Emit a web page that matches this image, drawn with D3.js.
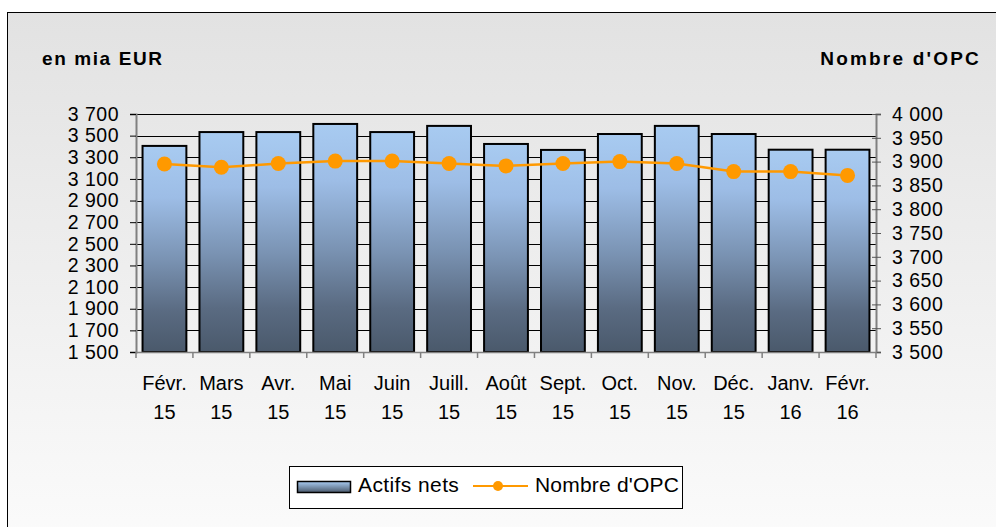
<!DOCTYPE html>
<html><head><meta charset="utf-8">
<script src="https://cdn.jsdelivr.net/npm/d3@7"></script>
<style>body{margin:0;background:#fff}svg{display:block}text{font-family:"Liberation Sans",Arial,sans-serif}</style>
</head><body><svg id="c" width="996" height="527"></svg>
<script>
const months = ["Févr.","Mars","Avr.","Mai","Juin","Juill.","Août","Sept.","Oct.","Nov.","Déc.","Janv.","Févr."];
const years = ["15","15","15","15","15","15","15","15","15","15","15","16","16"];
const actifsNets = [3405,3533,3533,3608,3533,3590,3423,3368,3515,3590,3515,3370,3370];
const nombreOPC = [3895,3888,3896,3901,3901,3896,3891,3896,3900,3896,3879,3879,3871];
const leftTicks = [1500,1700,1900,2100,2300,2500,2700,2900,3100,3300,3500,3700];
const rightTicks = [3500,3550,3600,3650,3700,3750,3800,3850,3900,3950,4000];

const svg = d3.select("#c");
const fmt = v => d3.format(",")(v).replace(/,/g, " ");
const defs = svg.append("defs");
const bg = defs.append("linearGradient").attr("id","bg").attr("x1",0).attr("y1",0).attr("x2",0).attr("y2",1);
bg.append("stop").attr("offset","0%").attr("stop-color","#e2e2e2");
bg.append("stop").attr("offset","100%").attr("stop-color","#fbfbfb");
const bar = defs.append("linearGradient").attr("id","bar").attr("x1",0).attr("y1",0).attr("x2",0).attr("y2",1);
[["0%","#a8cbf1"],["25%","#9dbde6"],["55%","#7a93b3"],["80%","#5a6b82"],["100%","#4a596b"]].forEach(s=>bar.append("stop").attr("offset",s[0]).attr("stop-color",s[1]));
const lg = defs.append("linearGradient").attr("id","lg").attr("x1",0).attr("y1",0).attr("x2",0).attr("y2",1);
[["0%","#a8cbf1"],["100%","#4a596b"]].forEach(s=>lg.append("stop").attr("offset",s[0]).attr("stop-color",s[1]));

svg.append("rect").attr("x",7.5).attr("y",12.5).attr("width",1000).attr("height",530).attr("fill","url(#bg)").attr("stroke","#000");

const L=136, R=876, T=114, B=352;
const x = d3.scaleBand().domain(d3.range(months.length)).range([L,R]).paddingInner(0.23).paddingOuter(0.115);
const yL = d3.scaleLinear().domain([1500,3700]).range([B,T]);
const yR = d3.scaleLinear().domain([3500,4000]).range([B,T]);

// gridlines
svg.append("g").selectAll("line").data(leftTicks).join("line")
  .attr("x1",L).attr("x2",R).attr("y1",d=>Math.round(yL(d))+0.5).attr("y2",d=>Math.round(yL(d))+0.5)
  .attr("stroke","#000").attr("stroke-width",1);

// bars
svg.append("g").selectAll("rect").data(actifsNets).join("rect")
  .attr("x",(d,i)=>x(i)).attr("width",x.bandwidth())
  .attr("y",d=>yL(d)).attr("height",d=>B-yL(d))
  .attr("fill","url(#bar)").attr("stroke","#000").attr("stroke-width",2);

// axes
const gl = svg.append("g").attr("transform",`translate(${L},0)`)
  .call(d3.axisLeft(yL).tickValues(leftTicks).tickFormat(fmt).tickSize(6).tickPadding(11));
gl.select(".domain").attr("stroke","#808080").attr("stroke-width",2);
gl.selectAll(".tick line").attr("stroke","#000");
gl.selectAll("text").attr("font-size",19.5).attr("letter-spacing",0.5).attr("fill","#000");

const gr = svg.append("g").attr("transform",`translate(${R},0)`)
  .call(d3.axisRight(yR).tickValues(rightTicks).tickFormat(fmt).tickSize(5).tickPadding(11));
gr.select(".domain").attr("stroke","#808080").attr("stroke-width",2);
gr.selectAll(".tick line").attr("x1",-4).attr("stroke","#555");
gr.selectAll("text").attr("font-size",19.5).attr("letter-spacing",0.5).attr("fill","#000");

// bottom axis line and ticks
svg.append("line").attr("x1",L).attr("x2",R).attr("y1",B+0.5).attr("y2",B+0.5).attr("stroke","#808080").attr("stroke-width",1.5);
const step = (R-L)/months.length;
svg.append("g").selectAll("line").data(d3.range(months.length+1)).join("line")
  .attr("x1",d=>L+d*step).attr("x2",d=>L+d*step).attr("y1",B).attr("y2",B+6).attr("stroke","#808080").attr("stroke-width",1.5);

// x labels
const xl = svg.append("g").selectAll("g").data(months).join("g");
xl.append("text").attr("x",(d,i)=>x(i)+x.bandwidth()/2).attr("y",390).attr("text-anchor","middle").attr("font-size",20).text(d=>d);
xl.append("text").attr("x",(d,i)=>x(i)+x.bandwidth()/2).attr("y",419).attr("text-anchor","middle").attr("font-size",20).text((d,i)=>years[i]);

// line
const line = d3.line().x((d,i)=>x(i)+x.bandwidth()/2).y(d=>yR(d));
svg.append("path").datum(nombreOPC).attr("d",line).attr("fill","none").attr("stroke","#ff9900").attr("stroke-width",2.5);
svg.append("g").selectAll("circle").data(nombreOPC).join("circle")
  .attr("cx",(d,i)=>x(i)+x.bandwidth()/2).attr("cy",d=>yR(d)).attr("r",7.5).attr("fill","#ff9900");

// titles
svg.append("text").attr("x",42).attr("y",65).attr("font-size",19).attr("letter-spacing",1.6).attr("font-weight","bold").text("en mia EUR");
svg.append("text").attr("x",981).attr("y",65).attr("font-size",19).attr("letter-spacing",2.2).attr("font-weight","bold").attr("text-anchor","end").text("Nombre d'OPC");

// legend
svg.append("rect").attr("x",289.5).attr("y",466.5).attr("width",393).attr("height",42).attr("fill","#fff").attr("stroke","#000");
svg.append("rect").attr("x",297.5).attr("y",481.5).attr("width",53).attr("height",11).attr("fill","url(#lg)").attr("stroke","#000").attr("stroke-width",1.5);
svg.append("text").attr("x",358).attr("y",492).attr("font-size",21).attr("letter-spacing",0.4).text("Actifs nets");
svg.append("line").attr("x1",473).attr("x2",528).attr("y1",486).attr("y2",486).attr("stroke","#ff9900").attr("stroke-width",2);
svg.append("circle").attr("cx",498).attr("cy",486).attr("r",5).attr("fill","#ff9900");
svg.append("text").attr("x",535).attr("y",492).attr("font-size",21).attr("letter-spacing",0.2).text("Nombre d'OPC");
</script></body></html>
